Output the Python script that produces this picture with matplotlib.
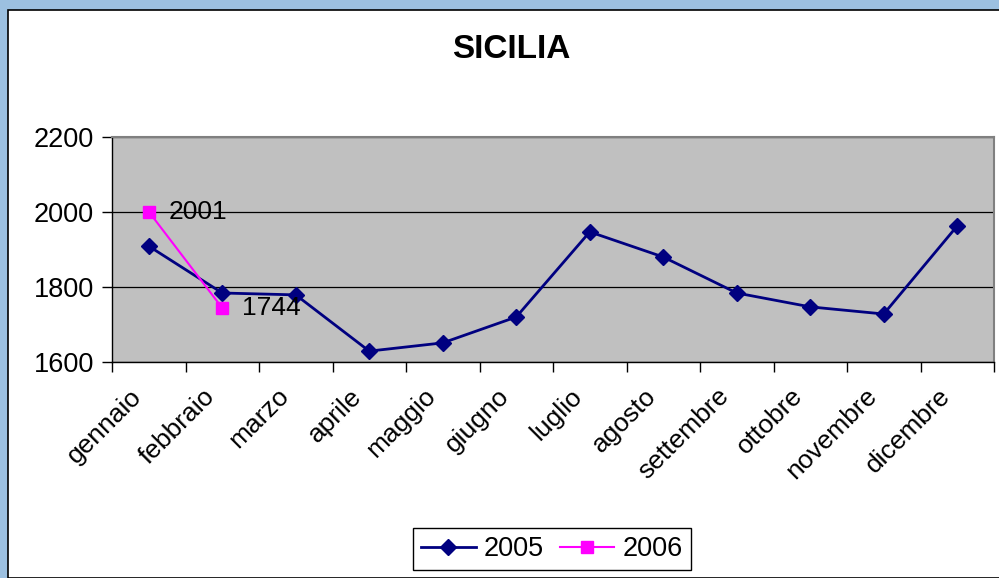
import matplotlib.pyplot as plt
from matplotlib.patches import Rectangle
from matplotlib.transforms import ScaledTranslation

plt.rcParams['font.family'] = ['Liberation Sans', 'DejaVu Sans']

mesi = ['gennaio', 'febbraio', 'marzo', 'aprile', 'maggio', 'giugno',
        'luglio', 'agosto', 'settembre', 'ottobre', 'novembre', 'dicembre']
val_2005 = [1909, 1784, 1779, 1629, 1651, 1720, 1947, 1880, 1784, 1747, 1728, 1963]
val_2006 = [2001, 1744]

fig = plt.figure(figsize=(9.99, 5.78), dpi=100, facecolor='#9cc0e0')
# cornice bianca del grafico
fig.patches.append(Rectangle((8 / 999, 0), 1, 1 - 10 / 578, transform=fig.transFigure,
                             facecolor='white', edgecolor='black', linewidth=1.2, zorder=-10))

ax = fig.add_axes([112 / 999, 1 - 362 / 578, (994 - 112) / 999, (362 - 137) / 578])
ax.set_facecolor('#c0c0c0')

x = list(range(len(mesi)))
l1, = ax.plot(x, val_2005, color='#000080', linewidth=2, marker='D', markersize=8.5)
l2, = ax.plot(x[:len(val_2006)], val_2006, color='#ff00ff', linewidth=1.5, marker='s', markersize=8.5)

for i, v in enumerate(val_2006):
    ax.annotate(str(v), (i, v), xytext=(14, 0), textcoords='offset points',
                ha='left', va='center', fontsize=19)

ax.set_xlim(-0.5, len(mesi) - 0.5)
ax.set_ylim(1600, 2200)
ax.set_yticks([1600, 1800, 2000, 2200])
ax.yaxis.grid(True, color='black', linewidth=0.9)
ax.set_axisbelow(True)

ax.set_xticks(x)
ax.set_xticklabels(mesi, rotation=45, ha='right', va='center', rotation_mode='anchor', fontsize=19)
ax.set_xticks([i - 0.5 for i in range(len(mesi) + 1)], minor=True)
ax.tick_params(axis='x', which='major', length=0, pad=22)
ax.tick_params(axis='x', which='minor', length=7, width=1, direction='out')
ax.tick_params(axis='y', length=7, width=1, labelsize=19.5, pad=6)
sposta = ScaledTranslation(-0.11, 0, fig.dpi_scale_trans)
for lab in ax.get_xticklabels():
    lab.set_transform(lab.get_transform() + sposta)

for s in ['top', 'right']:
    ax.spines[s].set_color('#808080')
    ax.spines[s].set_linewidth(1.5)
for s in ['left', 'bottom']:
    ax.spines[s].set_color('black')
    ax.spines[s].set_linewidth(1)

fig.text(511 / 999, 1 - 50 / 578, 'SICILIA', ha='center', va='center',
         fontsize=24, fontweight='bold')

leg = fig.legend([l1, l2], ['2005', '2006'], loc='center', ncol=2,
                 bbox_to_anchor=(552 / 999, 1 - 549 / 578), fontsize=19.5,
                 fancybox=False, edgecolor='black', framealpha=1,
                 handlelength=2.0, handletextpad=0.3, columnspacing=0.6,
                 borderpad=0.3)
leg.get_frame().set_linewidth(1)

plt.savefig('out.png', dpi=100, facecolor=fig.get_facecolor())
